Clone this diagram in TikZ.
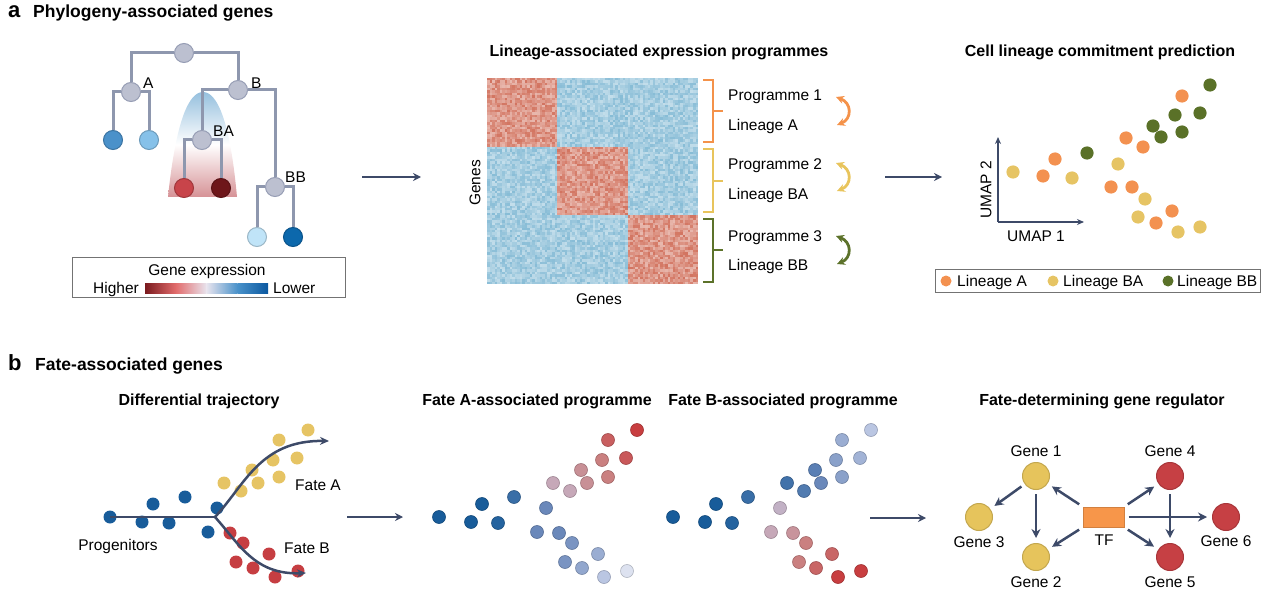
\documentclass[tikz,border=0pt]{standalone}
\usepackage{fontspec}
\setmainfont{Liberation Sans}
\usetikzlibrary{arrows.meta, positioning, calc, backgrounds}
\definecolor{navy}{RGB}{61,74,104}
\definecolor{treeLine}{RGB}{142,151,174}
\definecolor{treeFill}{RGB}{188,192,208}
\definecolor{treeEdge}{RGB}{150,157,180}
\definecolor{leafAa}{RGB}{74,145,202}
\definecolor{leafAb}{RGB}{134,193,233}
\definecolor{leafBAa}{RGB}{200,68,74}
\definecolor{leafBAb}{RGB}{110,22,26}
\definecolor{leafBBa}{RGB}{192,228,248}
\definecolor{leafBBb}{RGB}{12,104,172}
\definecolor{bellBlue}{RGB}{150,192,222}
\definecolor{bellRed}{RGB}{214,146,150}
\definecolor{hmRed}{RGB}{210,115,95}
\definecolor{hmBlue}{RGB}{135,188,214}
\definecolor{prgOrange}{RGB}{244,146,74}
\definecolor{prgYellow}{RGB}{232,196,92}
\definecolor{prgGreen}{RGB}{92,114,42}
\definecolor{dotYellow}{RGB}{230,196,100}
\definecolor{dotOrange}{RGB}{243,145,80}
\definecolor{dotGreen}{RGB}{90,113,40}
\definecolor{tBlue}{RGB}{24,92,154}
\definecolor{tRed}{RGB}{198,62,66}
\definecolor{mBlue}{RGB}{106,136,186}
\definecolor{pBlue}{RGB}{186,198,226}
\definecolor{mauve}{RGB}{198,168,184}
\definecolor{mRed}{RGB}{202,128,128}
\definecolor{dRed}{RGB}{200,62,64}
\definecolor{geneYellow}{RGB}{230,196,92}
\definecolor{geneRed}{RGB}{198,64,68}
\definecolor{tfOrange}{RGB}{247,150,74}
\definecolor{gradA}{RGB}{122,26,30}
\definecolor{gradB}{RGB}{226,108,108}
\definecolor{gradC}{RGB}{232,228,238}
\definecolor{gradD}{RGB}{74,146,202}
\definecolor{gradE}{RGB}{10,88,160}

\tikzset{
  lbl/.style={font=\fontsize{15.5}{18}\selectfont, inner sep=0pt},
  ttl/.style={font=\fontsize{16}{19}\selectfont\bfseries, inner sep=0pt},
  sec/.style={font=\fontsize{17.5}{20}\selectfont\bfseries, inner sep=0pt},
  secl/.style={font=\fontsize{22}{24}\selectfont\bfseries, inner sep=0pt},
  tnode/.style={circle, fill=treeFill, draw=treeEdge, line width=1pt, minimum size=19pt, inner sep=0pt},
  leaf/.style={tnode, fill=#1, draw=#1!80!black},
  branch/.style={draw=treeLine, line width=3pt},
  flow/.style={draw=navy, line width=2pt, -{Stealth[length=8pt,width=8pt]}},
  cyc/.style={line width=2.8pt, {Stealth[length=8pt,width=8pt]}-{Stealth[length=8pt,width=8pt]}},
  traj/.style={draw=navy, line width=2.5pt, -{Stealth[length=9pt,width=8pt]}},
  gene/.style={circle, minimum size=27pt, inner sep=0pt, line width=1pt, fill=#1, draw=#1!85!black},
  tfbox/.style={rectangle, fill=tfOrange, draw=tfOrange!85!black, line width=1pt, minimum width=41pt, minimum height=20pt, inner sep=0pt},
  reg/.style={draw=navy, line width=2.5pt, -{Stealth[length=9pt,width=9pt]}, shorten >=5pt, shorten <=4pt},
  boxline/.style={draw=black!55, line width=0.8pt}
}

\begin{document}
\begin{tikzpicture}[x=1pt, y=-1pt]
  \useasboundingbox (0,0) rectangle (1269,596);

  % a: phylogeny
  \node[secl, anchor=base west] (secA) at (8,18) {a};
  \node[sec, anchor=base west] (secAt) at (33,18) {Phylogeny-associated genes};

  \node[tnode] (root) at (184,53) {};
  \node[tnode] (nA) at (131,92) {};
  \node[tnode] (nB) at (238,90) {};
  \node[leaf=leafAa] (lA1) at (113,140) {};
  \node[leaf=leafAb] (lA2) at (149,140) {};
  \node[tnode] (nBA) at (202,140) {};
  \node[tnode] (nBB) at (275,187) {};
  \node[leaf=leafBAa] (lBA1) at (184,188) {};
  \node[leaf=leafBAb] (lBA2) at (221,188) {};
  \node[leaf=leafBBa] (lBB1) at (257,237) {};
  \node[leaf=leafBBb] (lBB2) at (293,237) {};
  \node[lbl, anchor=base west] (tA) at (143,89) {A};
  \node[lbl, anchor=base west] (tB) at (251,89) {B};
  \node[lbl, anchor=base west] (tBA) at (213,137) {BA};
  \node[lbl, anchor=base west] (tBB) at (285,183) {BB};
  \begin{scope}[on background layer]
    \shade[top color=bellBlue, bottom color=bellRed, middle color=white]
      (168,197) .. controls (176,120) and (189,92) .. (203,92)
      .. controls (217,92) and (230,120) .. (237,197) -- cycle;
    \draw[branch] (root) -| (nA);
    \draw[branch] (root) -| (nB);
    \draw[branch] (nA) -| (lA1);
    \draw[branch] (nA) -| (lA2);
    \draw[branch] (nB) -| (nBA);
    \draw[branch] (nB) -| (nBB);
    \draw[branch] (nBA) -| (lBA1);
    \draw[branch] (nBA) -| (lBA2);
    \draw[branch] (nBB) -| (lBB1);
    \draw[branch] (nBB) -| (lBB2);
  \end{scope}

  \node[boxline, minimum width=273pt, minimum height=40pt, inner sep=0pt] (gxBox) at (208.5,277) {};
  \node[lbl, anchor=base] (gxT) at (207,275) {Gene expression};
  \node[lbl, anchor=base east] (gxHi) at (139,293) {Higher};
  \node[lbl, anchor=base west] (gxLo) at (273,293) {Lower};
  \shade[left color=gradA, right color=gradB] (145,283) rectangle (175.9,293);
  \shade[left color=gradB, right color=gradC] (175.75,283) rectangle (206.6,293);
  \shade[left color=gradC, right color=gradD] (206.5,283) rectangle (237.4,293);
  \shade[left color=gradD, right color=gradE] (237.25,283) rectangle (268,293);

  \coordinate (f1s) at (362,177);
  \coordinate (f1e) at (421,177);
  \draw[flow] (f1s) -- (f1e);

  % heatmap
  \node[ttl, anchor=base] (hmT) at (659,57) {Lineage-associated expression programmes};
  \pgfmathsetseed{7}
  \foreach \i in {0,...,83} {
    \foreach \j in {0,...,83} {
      \pgfmathtruncatemacro\bi{\i/28}
      \pgfmathtruncatemacro\bj{\j/28}
      \pgfmathtruncatemacro\k{50+50*rnd}
      \ifnum\bi=\bj \def\hc{hmRed}\else\def\hc{hmBlue}\fi
      \fill[\hc!\k!white] ({487+\i*2.512},{78+\j*2.452}) rectangle ++(2.6,2.55);
    }
  }
  \node[lbl, rotate=90] (hmY) at (475,183) {Genes};
  \node[lbl, anchor=base] (hmX) at (599,304) {Genes};

  \foreach \t/\m/\b/\c in {80/111/142/prgOrange, 149/181/212/prgYellow, 219/250/282/prgGreen}
    \draw[\c, line width=2.5pt] (703,\t) -- (713,\t) -- (713,\b) -- (703,\b) (713,\m) -- (723,\m);
  \node[lbl, anchor=base west] (p1) at (728,101) {Programme 1};
  \node[lbl, anchor=base west] (l1) at (728,131) {Lineage A};
  \node[lbl, anchor=base west] (p2) at (728,170) {Programme 2};
  \node[lbl, anchor=base west] (l2) at (728,200) {Lineage BA};
  \node[lbl, anchor=base west] (p3) at (728,241) {Programme 3};
  \node[lbl, anchor=base west] (l3) at (728,270) {Lineage BB};
  \draw[cyc, prgOrange] (836,97) .. controls (852,103) and (852,119) .. (837,125);
  \draw[cyc, prgYellow] (836,163) .. controls (852,169) and (852,185) .. (837,191);
  \draw[cyc, prgGreen] (836,236) .. controls (852,242) and (852,258) .. (837,264);

  \coordinate (f2s) at (885,177);
  \coordinate (f2e) at (942,177);
  \draw[flow] (f2s) -- (f2e);

  % umap
  \node[ttl, anchor=base] (umT) at (1100,57) {Cell lineage commitment prediction};
  \coordinate (uO) at (998,222);
  \coordinate (uYe) at (998,137);
  \coordinate (uXe) at (1084,222);
  \draw[navy, line width=1.6pt, -{Stealth[length=7pt,width=6pt]}] (uO) -- (uYe);
  \draw[navy, line width=1.6pt, -{Stealth[length=7pt,width=6pt]}] (uO) -- (uXe);
  \node[lbl, rotate=90] (uY) at (986,190) {UMAP 2};
  \node[lbl, anchor=base] (uX) at (1036,242) {UMAP 1};
  \foreach \x/\y in {1013/172, 1072/178, 1118/164, 1145/199, 1138/217, 1178/232, 1200/227}
    \fill[dotYellow] (\x,\y) circle[radius=6.6pt];
  \foreach \x/\y in {1055/159, 1043/176, 1126/138, 1143/147, 1182/96, 1111/187, 1132/187, 1172/211, 1156/223}
    \fill[dotOrange] (\x,\y) circle[radius=6.6pt];
  \foreach \x/\y in {1087/153, 1153/126, 1161/137, 1175/115, 1182/132, 1200/113, 1210/85}
    \fill[dotGreen] (\x,\y) circle[radius=6.6pt];
  \node[boxline, minimum width=325pt, minimum height=23pt, inner sep=0pt] (umLeg) at (1097.5,280.5) {};
  \fill[dotOrange] (946,281) circle[radius=5.5pt];
  \fill[dotYellow] (1053,281) circle[radius=5.5pt];
  \fill[dotGreen] (1168,281) circle[radius=5.5pt];
  \node[lbl, anchor=base west] (lgA) at (957,286) {Lineage A};
  \node[lbl, anchor=base west] (lgBA) at (1063,286) {Lineage BA};
  \node[lbl, anchor=base west] (lgBB) at (1177,286) {Lineage BB};

  % b: fate
  \node[secl, anchor=base west] (secB) at (8,370) {b};
  \node[sec, anchor=base west] (secBt) at (35,370) {Fate-associated genes};
  \node[ttl, anchor=base] (trT) at (199,405) {Differential trajectory};
  \node[ttl, anchor=base] (faT) at (537,405) {Fate A-associated programme};
  \node[ttl, anchor=base] (fbT) at (783,405) {Fate B-associated programme};
  \node[ttl, anchor=base] (grT) at (1102,405) {Fate-determining gene regulator};

  \foreach \x/\y/\ct/\ca/\cb in {
      110/517/tBlue/tBlue/tBlue, 153/504/tBlue/tBlue/tBlue, 142/522/tBlue/tBlue/tBlue,
      169/523/tBlue/tBlue!85!mBlue/tBlue!85!mBlue, 185/497/tBlue/tBlue!60!mBlue/tBlue!60!mBlue,
      217/508/tBlue/mBlue/mauve!70!pBlue, 208/532/tBlue/mBlue/mauve,
      230/533/tRed/mBlue/mauve!50!mRed, 243/543/tRed/mBlue!80!pBlue/mRed,
      236/562/tRed/mBlue!80!pBlue/mRed, 253/568/tRed/mBlue!50!pBlue/mRed!60!dRed,
      269/554/tRed/mBlue!40!pBlue/mRed!60!dRed, 275/577/tRed/pBlue/dRed,
      298/571/tRed/pBlue!50!white/dRed,
      224/483/dotYellow/mauve/mBlue!50!tBlue, 241/491/dotYellow/mauve/mBlue!70!tBlue,
      252/470/dotYellow/mauve!40!mRed/mBlue!80!tBlue, 258/483/dotYellow/mauve!40!mRed/mBlue,
      273/460/dotYellow/mRed/mBlue!60!pBlue, 279/477/dotYellow/mRed/mBlue!60!pBlue,
      279/440/dotYellow/mRed!50!dRed/mBlue!40!pBlue, 297/458/dotYellow/mRed!40!dRed/mBlue!30!pBlue,
      308/430/dotYellow/dRed/pBlue} {
    \fill[\ct] (\x,\y) circle[radius=6.5pt];
    \filldraw[fill=\ca, draw=\ca!80!black, line width=0.6pt] ({\x+329},\y) circle[radius=6.5pt];
    \filldraw[fill=\cb, draw=\cb!80!black, line width=0.6pt] ({\x+563},\y) circle[radius=6.5pt];
  }
  \coordinate (tStart) at (110,517);
  \coordinate (tSplit) at (215,517);
  \coordinate (tEndA) at (329,441);
  \coordinate (tEndB) at (306,573);
  \draw[navy, line width=2.5pt] (tStart) -- (tSplit);
  \draw[traj] (tSplit) .. controls (245,485) and (260,440) .. (tEndA);
  \draw[traj] (tSplit) .. controls (240,545) and (255,575) .. (tEndB);
  \node[lbl, anchor=base] (prog) at (118,550) {Progenitors};
  \node[lbl, anchor=base] (fA) at (318,490) {Fate A};
  \node[lbl, anchor=base] (fB) at (307,553) {Fate B};

  \coordinate (f3s) at (347,517);
  \coordinate (f3e) at (403,517);
  \draw[flow] (f3s) -- (f3e);
  \coordinate (f4s) at (870,518);
  \coordinate (f4e) at (926,518);
  \draw[flow] (f4s) -- (f4e);

  % gene regulator
  \node[gene=geneYellow] (g1) at (1036,476) {};
  \node[gene=geneYellow] (g3) at (979,517) {};
  \node[gene=geneYellow] (g2) at (1036,557) {};
  \node[tfbox] (tf) at (1103.5,517) {};
  \node[gene=geneRed] (g4) at (1170,476) {};
  \node[gene=geneRed] (g5) at (1170,557) {};
  \node[gene=geneRed] (g6) at (1226,517) {};
  \node[lbl, anchor=base] (g1l) at (1036,456) {Gene 1};
  \node[lbl, anchor=base] (g3l) at (979,547) {Gene 3};
  \node[lbl, anchor=base] (g2l) at (1036,587) {Gene 2};
  \node[lbl, anchor=base] (tfl) at (1104,545) {TF};
  \node[lbl, anchor=base] (g4l) at (1170,456) {Gene 4};
  \node[lbl, anchor=base] (g5l) at (1170,587) {Gene 5};
  \node[lbl, anchor=base] (g6l) at (1226,546) {Gene 6};
  \draw[reg] (g1) -- (g3);
  \draw[reg] (g1) -- (g2);
  \draw[reg] (tf.north west) -- (g1);
  \draw[reg] (tf.south west) -- (g2);
  \draw[reg] (tf.north east) -- (g4);
  \draw[reg] (tf.south east) -- (g5);
  \draw[reg] (tf.east) -- (g6);
  \draw[reg] (g4) -- (g5);
\end{tikzpicture}
\end{document}
